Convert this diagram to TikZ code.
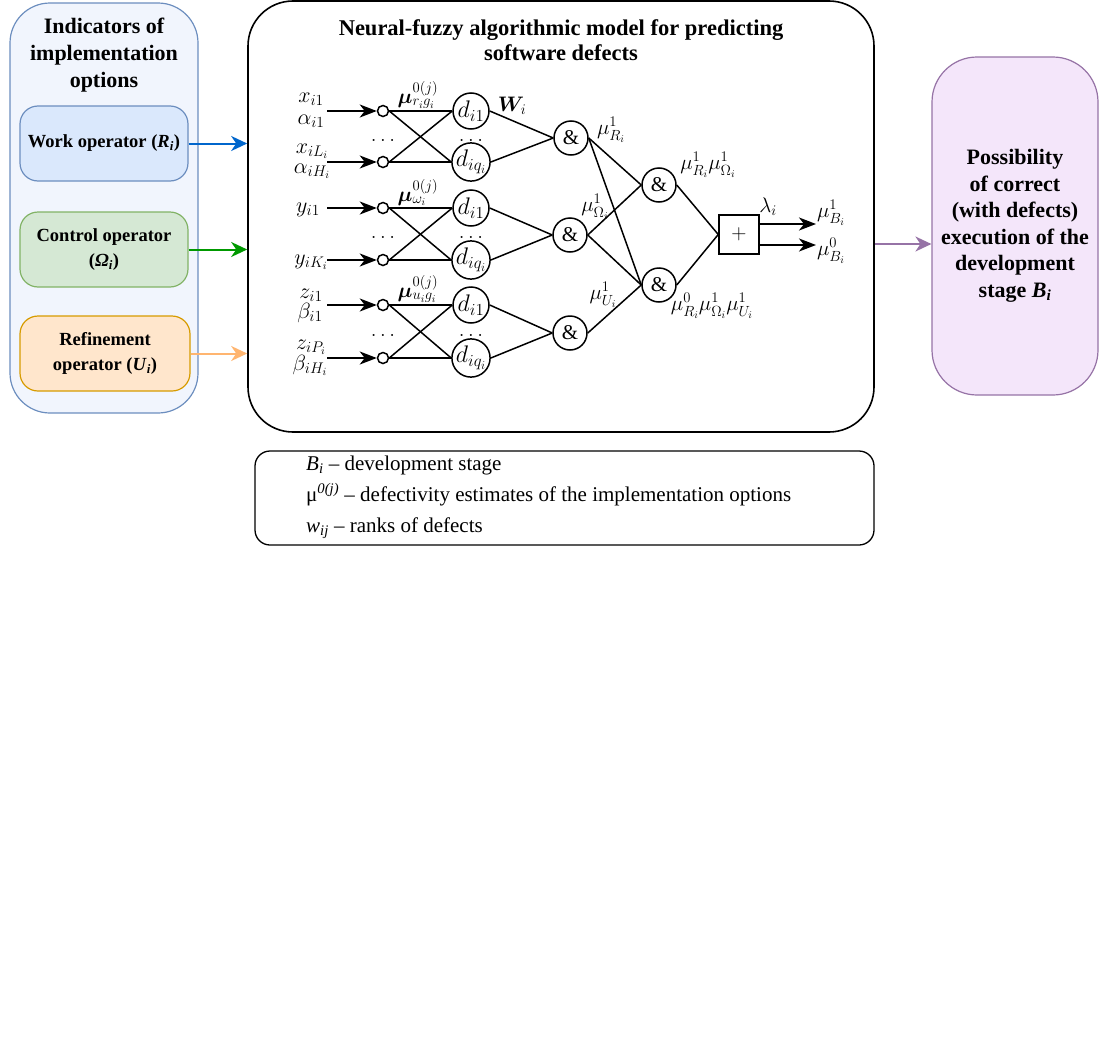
\documentclass[tikz,border=0pt]{standalone}
\usepackage{fix-cm}
\usepackage{amsmath,bm}
\usepackage{fontspec}
\setmainfont{Liberation Serif}
\usetikzlibrary{arrows.meta}

\definecolor{outerfill}{HTML}{F1F5FD}
\definecolor{blueline}{HTML}{6C8EBF}
\definecolor{workfill}{HTML}{DAE8FC}
\definecolor{ctrlfill}{HTML}{D5E8D4}
\definecolor{ctrlline}{HTML}{82B366}
\definecolor{reffill}{HTML}{FFE6CC}
\definecolor{refline}{HTML}{D79B00}
\definecolor{possfill}{HTML}{F4E6FA}
\definecolor{possline}{HTML}{9673A6}
\definecolor{workarrow}{HTML}{0066CC}
\definecolor{ctrlarrow}{HTML}{009900}
\definecolor{refarrow}{HTML}{FFB570}

\tikzset{
  opbox/.style={draw, rounded corners=18pt, line width=1.2pt, minimum width=168pt,
    minimum height=75pt, align=center, font=\bfseries\fontsize{18.5}{25}\selectfont},
  neuron/.style={circle, draw, line width=1.5pt, minimum size=36pt, font=\fontsize{24}{24}\selectfont},
  andgate/.style={circle, draw, line width=1.5pt, minimum size=34pt},
  tap/.style={circle, draw, line width=1.5pt, minimum size=11pt},
  inlabel/.style={anchor=base, font=\fontsize{22}{22}\selectfont},
  link/.style={line width=1.5pt},
  feed/.style={line width=2pt, -{Stealth[length=17pt,width=13pt,inset=5pt]}},
  opfeed/.style={line width=2pt, -{Stealth[length=16pt,width=15pt,inset=5pt]}},
}

\begin{document}
\begin{tikzpicture}[x=1pt, y=-1pt, font=\fontsize{21}{24}\selectfont,
  every node/.append style={inner sep=0pt}]
\useasboundingbox (0,0) rectangle (1100,1036);

% indicators
\node[draw=blueline, fill=outerfill, rounded corners=40pt, line width=1.2pt,
  minimum width=188pt, minimum height=410pt] (indicators) at (104,208) {};
\node[align=center, font=\bfseries\fontsize{22}{27}\selectfont] (indtitle) at (104,55)
  {Indicators of\\implementation\\options};
\node[opbox, draw=blueline, fill=workfill] (work) at (104,143.5)
  {Work operator (\textit{R}\textsubscript{\textit{i}})};
\node[opbox, draw=ctrlline, fill=ctrlfill] (control) at (104,249.5)
  {Control operator\\(\textit{Ω}\textsubscript{\textit{i}})};
\node[opbox, draw=refline, fill=reffill, minimum width=170pt] (refine) at (105,353.5)
  {Refinement\\operator (\textit{U}\textsubscript{\textit{i}})};

% model frame
\node[draw, rounded corners=45pt, line width=1.6pt, minimum width=626pt,
  minimum height=431pt] (model) at (561,216.5) {};
\node[align=center, font=\bfseries\fontsize{22.5}{25}\selectfont] (modeltitle) at (561,40)
  {Neural-fuzzy algorithmic model for predicting\\software defects};

\draw[opfeed, workarrow] (work.east) -- (work.east -| model.west);
\draw[opfeed, ctrlarrow] (control.east) -- (control.east -| model.west);
\draw[opfeed, refarrow] (refine.east) -- (refine.east -| model.west);

% input layer
\foreach \g/\yt/\yb in {1/111/162, 2/208/260, 3/305/358}{
  \node[tap] (tap\g-a) at (383,\yt) {};
  \node[tap] (tap\g-b) at (383,\yb) {};
  \node[neuron] (d\g-a) at (471,\yt) {$d_{i1}$};
  \node[neuron] (d\g-b) at (471,\yb) {$d_{iq_i}$};
  \node[anchor=base] at (383,{(\yt+\yb)/2+4.5}) {$\ldots$};
  \node[anchor=base] at (471,{(\yt+\yb)/2+4.5}) {$\ldots$};
  \coordinate (src\g-a) at (327,\yt);
  \coordinate (src\g-b) at (327,\yb);
  \draw[feed] (src\g-a) -- (tap\g-a.west);
  \draw[feed] (src\g-b) -- (tap\g-b.west);
  \draw[link] (tap\g-a.east) -- (d\g-a.west);
  \draw[link] (tap\g-a.east) -- (d\g-b.west);
  \draw[link] (tap\g-b.east) -- (d\g-a.west);
  \draw[link] (tap\g-b.east) -- (d\g-b.west);
}
\node[inlabel] at (311,102) {$x_{i1}$};
\node[inlabel] at (311,124) {$\alpha_{i1}$};
\node[inlabel] at (312,153) {$x_{iL_i}$};
\node[inlabel] at (312,173) {$\alpha_{iH_i}$};
\node[inlabel] at (308,212) {$y_{i1}$};
\node[inlabel] at (311,264) {$y_{iK_i}$};
\node[inlabel] at (311,298) {$z_{i1}$};
\node[inlabel] at (310,318) {$\beta_{i1}$};
\node[inlabel] at (311,349) {$z_{iP_i}$};
\node[inlabel] at (310,370) {$\beta_{iH_i}$};
\node[anchor=south] at (418,109) {$\bm{\mu}^{0(j)}_{r_ig_i}$};
\node[anchor=south] at (418,206) {$\bm{\mu}^{0(j)}_{\omega_i}$};
\node[anchor=south] at (418,303) {$\bm{\mu}^{0(j)}_{u_ig_i}$};
\node (weights) at (512,106) {$\bm{W}_i$};

% conjunctions
\node[andgate] (and1) at (571,138) {$\&$};
\node[andgate] (and2) at (570,235) {$\&$};
\node[andgate] (and3) at (570,333) {$\&$};
\node[andgate] (and4) at (659,185) {$\&$};
\node[andgate] (and5) at (659,285) {$\&$};
\foreach \g in {1,2,3}{
  \draw[link] (d\g-a.east) -- (and\g.west);
  \draw[link] (d\g-b.east) -- (and\g.west);
}
\draw[link] (and1.east) -- (and4.west);
\draw[link] (and1.east) -- (and5.west);
\draw[link] (and2.east) -- (and4.west);
\draw[link] (and2.east) -- (and5.west);
\draw[link] (and3.east) -- (and5.west);
\node at (611,130) {$\mu^1_{R_i}$};
\node at (595,207) {$\mu^1_{\Omega_i}$};
\node at (603,295) {$\mu^1_{U_i}$};
\node at (708,165) {$\mu^1_{R_i}\mu^1_{\Omega_i}$};
\node at (712,306) {$\mu^0_{R_i}\mu^1_{\Omega_i}\mu^1_{U_i}$};

% sum and outputs
\node[draw, line width=1.5pt, minimum width=40pt, minimum height=39pt] (plus) at (739,234.5) {$+$};
\draw[link] (and4.east) -- (plus.west);
\draw[link] (and5.east) -- (plus.west);
\coordinate (outone) at (816,224);
\coordinate (outzero) at (816,245);
\draw[feed] (plus.east |- outone) -- (outone);
\draw[feed] (plus.east |- outzero) -- (outzero);
\node at (768,207) {$\lambda_i$};
\node at (831,213) {$\mu^1_{B_i}$};
\node at (831,251) {$\mu^0_{B_i}$};

% result
\node[draw=possline, fill=possfill, rounded corners=45pt, line width=1.2pt,
  minimum width=166pt, minimum height=338pt, align=center,
  font=\bfseries\fontsize{22}{26.5}\selectfont] (possibility) at (1015,226)
  {Possibility\\of correct\\(with defects)\\execution of the\\development\\stage \textit{B}\textsubscript{\textit{i}}};
\coordinate (possin) at (possibility.west |- 0,244);
\draw[opfeed, possline] (model.east |- possin) -- (possin);

% legend
\node[draw, rounded corners=15pt, line width=1.3pt, minimum width=619pt,
  minimum height=94pt] (legend) at (564.5,498) {};
\node[anchor=west, align=left, font=\fontsize{21}{31}\selectfont] (legendtext) at (306,497)
  {\textit{B}\textsubscript{\textit{i}} – development stage\\
   μ\textsuperscript{\textit{0(j)}} – defectivity estimates of the implementation options\\
   \textit{w}\textsubscript{\textit{ij}} – ranks of defects};
\end{tikzpicture}
\end{document}
